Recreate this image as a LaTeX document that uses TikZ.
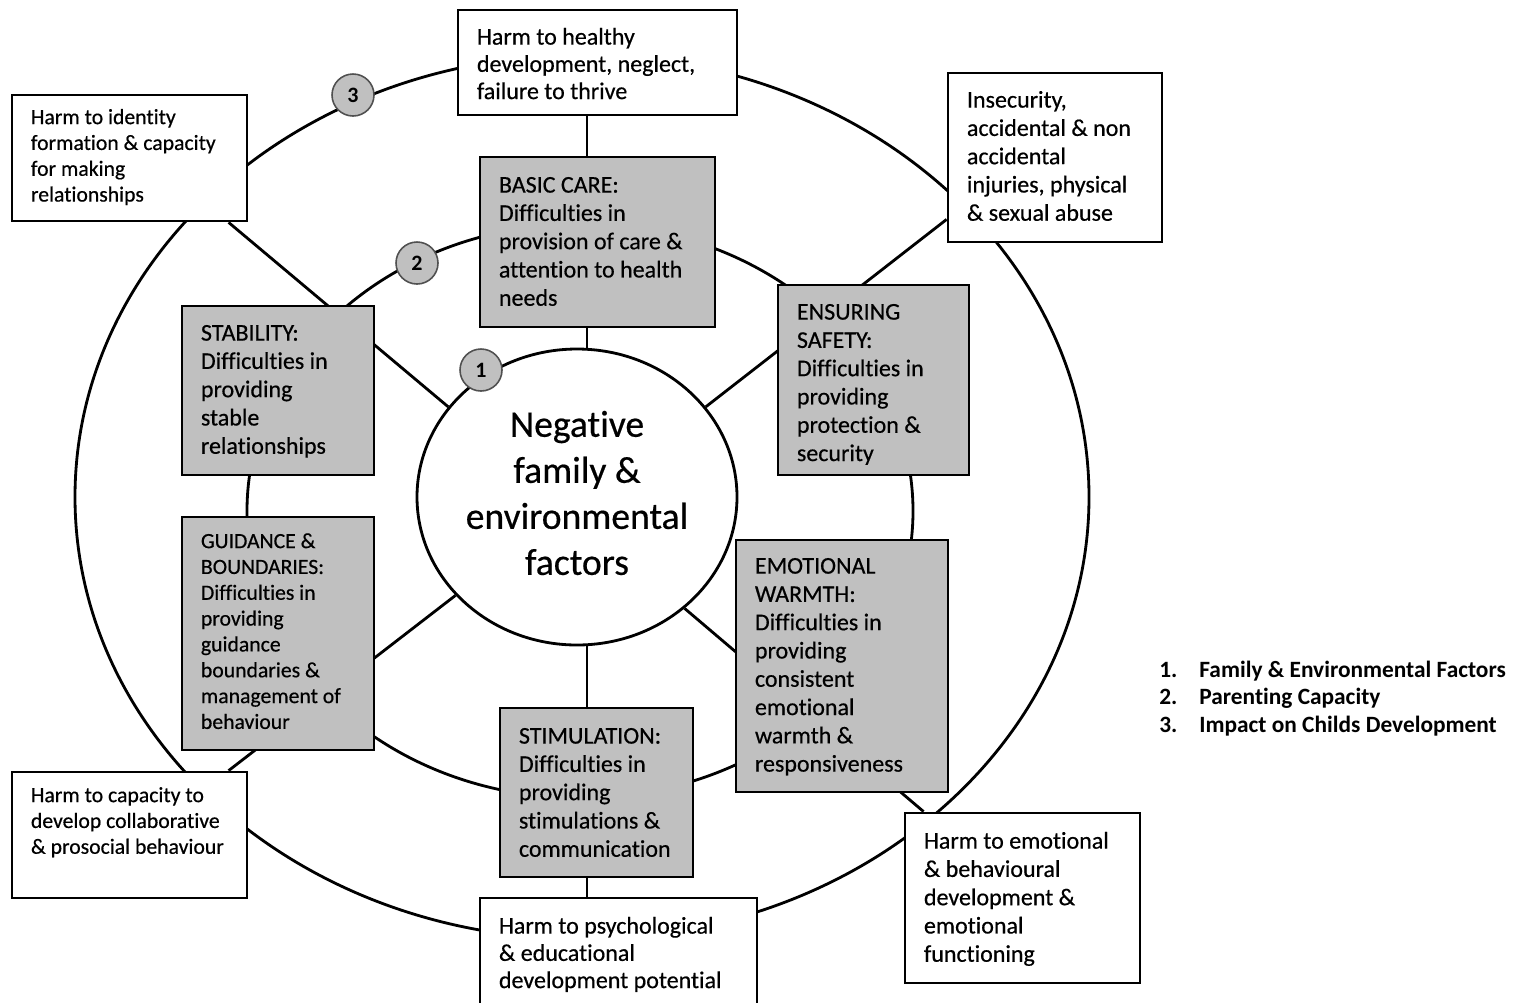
\documentclass[tikz,border=0pt]{standalone}
\usepackage{fontspec}
\setmainfont{Carlito}[Ligatures=NoCommon]
\newfontfamily\heavy{Carlito}[Ligatures=NoCommon,FakeBold=0.5]
\usetikzlibrary{calc,shapes.geometric,backgrounds}
\definecolor{boxgray}{HTML}{C0C0C0}
\definecolor{numgray}{HTML}{505050}
\newcommand\mybox[6]{%
  \node[#2, minimum width={(#5-#3)*0.02cm}, minimum height={(#6-#4)*0.02cm}] (#1) at ({(#3+#5)/2},{(#4+#6)/2}) {};}
\newcommand\boxtext[4]{%
  \node[#2, anchor=base west] (#1-t) at ($(#1.north west)+(20,#3)$) {\begin{tabular}[t]{@{}l@{}}#4\end{tabular}};}
\tikzset{
  wbox/.style={draw, rectangle, line width=1.6pt, fill=white, inner sep=0pt},
  gbox/.style={wbox, fill=boxgray},
  bigtxt/.style={inner sep=0pt, font=\heavy\fontsize{13.66pt}{16.1pt}\selectfont},
  midtxt/.style={inner sep=0pt, font=\heavy\fontsize{13.66pt}{15.5pt}\selectfont},
  smalltxt/.style={inner sep=0pt, font=\heavy\fontsize{12.35pt}{14.7pt}\selectfont},
  ring/.style={line width=1.6pt},
  conn/.style={line width=1.6pt},
  numc/.style={circle, draw=numgray, fill=boxgray, line width=0.9pt, minimum size={42*0.02cm}, inner sep=0pt, font=\bfseries\fontsize{12.5pt}{13pt}\selectfont},
}
\begin{document}
\begin{tikzpicture}[x=0.02cm,y=-0.02cm]
\useasboundingbox (0,0) rectangle (1527,1002);
\clip (0,0) rectangle (1527,1002);
% outer boxes (impact on development)
\mybox{top}{wbox}{458}{10}{737}{115}
\mybox{ident}{wbox}{12}{95}{247}{221}
\mybox{insec}{wbox}{948}{73}{1162}{242}
\mybox{cap}{wbox}{12}{772}{247}{898}
\mybox{bot}{wbox}{480}{898}{757}{1015}
\mybox{emof}{wbox}{905}{813}{1140}{983}
% parenting capacity boxes
\mybox{basic}{gbox}{480}{157}{715}{327}
\mybox{stab}{gbox}{182}{306}{374}{475}
\mybox{safe}{gbox}{778}{285}{969}{475}
\mybox{guid}{gbox}{182}{517}{374}{750}
\mybox{stim}{gbox}{500}{708}{693}{877}
\mybox{warm}{gbox}{736}{540}{948}{792}
% centre
\node[ellipse, draw, fill=white, line width=1.6pt, inner sep=0pt, minimum width={320*0.02cm}, minimum height={296*0.02cm}] (ctr) at (577,497) {};
\node[inner sep=0pt, align=center, font=\heavy\fontsize{21.4pt}{26.2pt}\selectfont] (ctr-t) at (577,493) {Negative\\family \&\\environmental\\factors};
% texts
\boxtext{top}{midtxt}{36}{Harm to healthy\\development, neglect,\\failure to thrive}
\boxtext{ident}{smalltxt}{30.5}{Harm to identity\\formation \& capacity\\for making\\relationships}
\boxtext{insec}{bigtxt}{36}{Insecurity,\\accidental \& non\\accidental\\injuries, physical\\\& sexual abuse}
\boxtext{cap}{smalltxt}{31.5}{Harm to capacity to\\develop collaborative\\\& prosocial behaviour}
\boxtext{bot}{midtxt}{37}{Harm to psychological\\\& educational\\development potential}
\boxtext{emof}{bigtxt}{37}{Harm to emotional\\\& behavioural\\development \&\\emotional\\functioning}
\boxtext{basic}{bigtxt}{37}{BASIC CARE:\\Difficulties in\\provision of care \&\\attention to health\\needs}
\boxtext{stab}{bigtxt}{36}{STABILITY:\\Difficulties in\\providing\\stable\\relationships}
\boxtext{safe}{bigtxt}{36}{ENSURING\\SAFETY:\\Difficulties in\\providing\\protection \&\\security}
\boxtext{guid}{smalltxt}{32.5}{GUIDANCE \&\\BOUNDARIES:\\Difficulties in\\providing\\guidance\\boundaries \&\\management of\\behaviour}
\boxtext{stim}{bigtxt}{37}{STIMULATION:\\Difficulties in\\providing\\stimulations \&\\communication}
\boxtext{warm}{bigtxt}{35}{EMOTIONAL\\WARMTH:\\Difficulties in\\providing\\consistent\\emotional\\warmth \&\\responsiveness}
% number markers
\node[numc] (n3) at (353,95) {3};
\node[numc] (n2) at (417,263) {2};
\node[numc] (n1) at (481,370) {1};
% legend
\node[inner sep=0pt, anchor=base west, font=\bfseries\fontsize{13.3pt}{15.65pt}\selectfont] (legend) at (1159,677)
  {\begin{tabular}[t]{@{}l@{}}\makebox[0.8cm][l]{1.}Family \& Environmental Factors\\\makebox[0.8cm][l]{2.}Parenting Capacity\\\makebox[0.8cm][l]{3.}Impact on Childs Development\end{tabular}};
% rings and spokes behind
\begin{pgfonlayer}{background}
\draw[ring] (582,497) ellipse [x radius=507, y radius=442];
\draw[ring] (580,511) ellipse [x radius=333, y radius=287];
\draw[conn] ($(top.south)+(-10.5,0)$) -- ($(ctr.north)+(10,0)$);
\draw[conn] ($(ident.south west)+(218,0)$) -- (ctr.145);
\draw[conn] ($(insec.south west)+(0,-24)$) -- (ctr.35);
\draw[conn] ($(cap.north west)+(218,0)$) -- (ctr.219.8);
\draw[conn] ($(bot.north)+(-31.5,0)$) -- ($(ctr.south)+(10,0)$);
\draw[conn] ($(emof.north west)+(20,0)$) -- (ctr.314.5);
\end{pgfonlayer}
\end{tikzpicture}
\end{document}
